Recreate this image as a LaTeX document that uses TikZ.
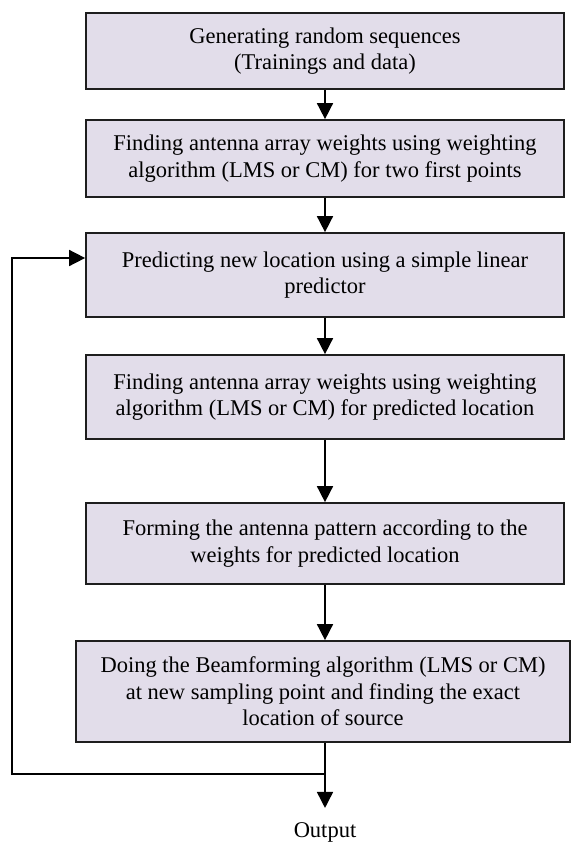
\documentclass[tikz,border=0pt]{standalone}
\usepackage{fontspec}
\setmainfont{Liberation Serif}
\usetikzlibrary{arrows.meta}
\definecolor{boxfill}{RGB}{226,221,234}
\definecolor{boxline}{RGB}{30,30,30}
\tikzset{
  stepbox/.style={draw=boxline, fill=boxfill, line width=1.7pt, inner sep=0pt,
    minimum width=478pt, align=center, font=\fontsize{22.5}{26.5}\selectfont},
  arr/.style={line width=1.6pt, -{Triangle[length=16pt,width=16pt]}},
  plain/.style={line width=1.6pt}
}
\begin{document}
\begin{tikzpicture}[x=1pt,y=1pt]
\path[use as bounding box] (0,0) rectangle (571,-844);
\node[stepbox, minimum height=76pt] (b1) at (325,-51) {Generating random sequences\\(Trainings and data)};
\node[stepbox, minimum height=77pt] (b2) at (325,-158.5) {Finding antenna array weights using weighting\\algorithm (LMS or CM) for two first points};
\node[stepbox, minimum height=84pt] (b3) at (325,-275) {Predicting new location using a simple linear\\predictor};
\node[stepbox, minimum height=84pt] (b4) at (325,-397) {Finding antenna array weights using weighting\\algorithm (LMS or CM) for predicted location};
\node[stepbox, minimum height=81pt] (b5) at (325,-543.5) {Forming the antenna pattern according to the\\weights for predicted location};
\node[stepbox, minimum height=101pt, minimum width=494pt] (b6) at (323,-691.5) {Doing the Beamforming algorithm (LMS or CM)\\at new sampling point and finding the exact\\location of source};
\node[inner sep=0pt, font=\fontsize{22.5}{26.5}\selectfont] (out) at (325,-832) {Output};
\coordinate (j) at (325,-774);
\coordinate (lp) at (12,-258);
\draw[arr] (b1) -- (b2);
\draw[arr] (b2) -- (b3);
\draw[arr] (b3) -- (b4);
\draw[arr] (b4) -- (b5);
\draw[arr] (b5.south) -- (b5.south |- b6.north);
\draw[plain] (b6.south -| j) -- (j);
\draw[arr, shorten >=14pt] (j) -- (out.north);
\draw[arr] (j) -| (lp) -- (b3.west |- lp);
\end{tikzpicture}
\end{document}
